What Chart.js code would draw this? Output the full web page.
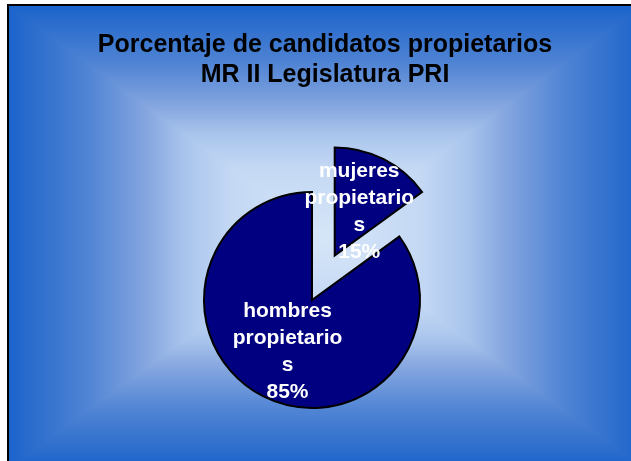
<!DOCTYPE html>
<html lang="es">

<head>
    <meta charset="UTF-8">
    <title>Porcentaje de candidatos propietarios</title>
    <script src="https://cdn.jsdelivr.net/npm/chart.js"></script>
    <style>
        html,
        body {
            margin: 0;
            padding: 0;
            background: #fff;
            overflow: hidden;
        }

        .frame {
            position: absolute;
            left: 7px;
            top: 4px;
            border-left: 2px solid #000;
            border-top: 2px solid #000;
        }

        canvas {
            display: block;
        }
    </style>
</head>

<body>
    <div class="frame">
        <canvas id="myChart" width="634" height="462"></canvas>
    </div>

    <script>
        // data
        const categories = ['mujeres propietarios', 'hombres propietarios'];
        const values = [15, 85];
        const titleLines = ['Porcentaje de candidatos propietarios', 'MR II Legislatura PRI'];

        // style only: how far each slice is pulled out (px)
        const explode = [50, 0];

        const labelFont = 'bold 21px "Liberation Sans", Arial, sans-serif';

        // Excel-like "from centre" rectangle gradient behind everything
        const backgroundGradient = {
            id: 'backgroundGradient',
            beforeDraw(chart) {
                const { ctx, width, height } = chart;
                const cx = width / 2, cy = height / 2;
                const stops = [
                    [0, '#d6e6f8'], [0.3, '#c4d8f4'], [0.45, '#a8c4ec'],
                    [0.555, '#88a8e0'], [0.75, '#5084d4'], [0.93, '#2a6ccc'], [1, '#1a64cc']
                ];
                const sides = [
                    [[0, 0], [width, 0], [cx, 0]],
                    [[width, 0], [width, height], [width, cy]],
                    [[width, height], [0, height], [cx, height]],
                    [[0, height], [0, 0], [0, cy]]
                ];
                ctx.save();
                ctx.lineWidth = 1.5;
                sides.forEach(([a, b, m]) => {
                    const g = ctx.createLinearGradient(cx, cy, m[0], m[1]);
                    stops.forEach(s => g.addColorStop(s[0], s[1]));
                    ctx.fillStyle = g;
                    ctx.strokeStyle = g;
                    ctx.beginPath();
                    ctx.moveTo(cx, cy);
                    ctx.lineTo(a[0], a[1]);
                    ctx.lineTo(b[0], b[1]);
                    ctx.closePath();
                    ctx.fill();
                    ctx.stroke();
                });
                ctx.restore();
            }
        };

        // pull exploded slices away from the centre
        const explodeSlices = {
            id: 'explodeSlices',
            afterDatasetUpdate(chart, args) {
                args.meta.data.forEach((arc, i) => {
                    const d = explode[i] || 0;
                    if (!d) return;
                    const mid = (arc.startAngle + arc.endAngle) / 2;
                    arc.x += Math.cos(mid) * d;
                    arc.y += Math.sin(mid) * d;
                });
            }
        };

        // title sits a bit right of the pie centre in the original
        const titleShift = {
            id: 'titleShift',
            afterLayout(chart) {
                if (chart.titleBlock) {
                    chart.titleBlock.left += 13;
                    chart.titleBlock.right += 13;
                }
            }
        };

        // wrap a label like Excel does (breaks inside long words too)
        function wrapText(ctx, text, maxWidth) {
            const lines = [];
            let line = '';
            text.split(' ').forEach(word => {
                const test = line ? line + ' ' + word : word;
                if (ctx.measureText(test).width <= maxWidth) {
                    line = test;
                    return;
                }
                if (line) lines.push(line);
                line = '';
                for (const ch of word) {
                    if (ctx.measureText(line + ch).width > maxWidth && line) {
                        lines.push(line);
                        line = ch;
                    } else {
                        line += ch;
                    }
                }
            });
            if (line) lines.push(line);
            return lines;
        }

        const sliceLabels = {
            id: 'sliceLabels',
            afterDatasetsDraw(chart) {
                const { ctx } = chart;
                const meta = chart.getDatasetMeta(0);
                const total = values.reduce((a, b) => a + b, 0);
                ctx.save();
                ctx.font = labelFont;
                ctx.fillStyle = '#fff';
                ctx.textAlign = 'center';
                ctx.textBaseline = 'middle';
                meta.data.forEach((arc, i) => {
                    const p = arc.getCenterPoint();
                    const lines = wrapText(ctx, categories[i], 112);
                    lines.push(Math.round(values[i] / total * 100) + '%');
                    const lh = 27;
                    lines.forEach((t, j) => {
                        ctx.fillText(t, p.x, p.y + 4 + (j - (lines.length - 1) / 2) * lh);
                    });
                });
                ctx.restore();
            }
        };

        const ctx = document.getElementById('myChart').getContext('2d');

        new Chart(ctx, {
            type: 'pie',
            data: {
                labels: categories,
                datasets: [{
                    data: values,
                    backgroundColor: '#000080',
                    borderColor: '#000',
                    borderWidth: 2,
                    borderJoinStyle: 'miter',
                    radius: 108
                }]
            },
            options: {
                responsive: false,
                animation: false,
                events: [],
                layout: {
                    padding: { left: 0, right: 28, top: 0, bottom: 0 }
                },
                plugins: {
                    legend: { display: false },
                    tooltip: { enabled: false },
                    title: {
                        display: true,
                        text: titleLines,
                        color: '#000',
                        font: { family: '"Liberation Sans", Arial, sans-serif', size: 25, weight: 'bold', lineHeight: 1.2 },
                        padding: { top: 24, bottom: 42 }
                    }
                }
            },
            plugins: [backgroundGradient, explodeSlices, titleShift, sliceLabels]
        });
    </script>
</body>

</html>
